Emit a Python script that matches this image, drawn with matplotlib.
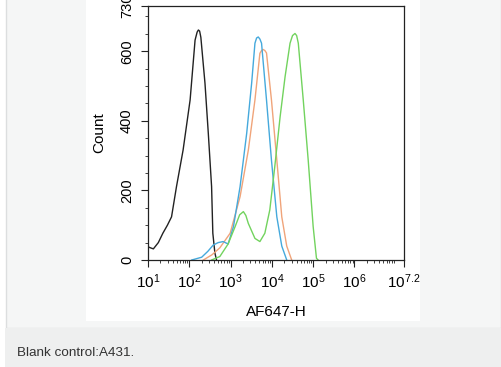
import numpy as np
import matplotlib
matplotlib.use("Agg")
import matplotlib.pyplot as plt
from matplotlib.patches import Rectangle
from matplotlib.ticker import FixedLocator, LogLocator, NullFormatter, MultipleLocator

plt.rcParams['font.family'] = ['Liberation Sans', 'DejaVu Sans']
plt.rcParams['mathtext.fontset'] = 'custom'
plt.rcParams['mathtext.rm'] = 'Liberation Sans'
plt.rcParams['mathtext.it'] = 'Liberation Sans:italic'

# histogram outlines, x as log10(intensity), y as count
black_x = [1.0, 1.06, 1.13, 1.25, 1.36, 1.47, 1.57, 1.69, 1.85, 2.02, 2.14, 2.19, 2.22, 2.25, 2.28, 2.38, 2.46, 2.54, 2.57, 2.62, 2.66]
black_y = [38, 35, 32, 50, 77, 100, 124, 211, 316, 460, 632, 655, 661, 658, 640, 508, 365, 211, 77, 20, 0]

blue_x = [2.06, 2.3, 2.45, 2.58, 2.7, 2.82, 2.94, 3.07, 3.23, 3.39, 3.51, 3.59, 3.63, 3.67, 3.71, 3.75, 3.87, 3.99, 4.12, 4.24, 4.36]
blue_y = [0, 8, 25, 43, 50, 53, 46, 96, 211, 364, 508, 623, 638, 641, 635, 623, 460, 287, 124, 40, 0]

orange_x = [2.34, 2.55, 2.74, 2.99, 3.23, 3.43, 3.59, 3.71, 3.75, 3.79, 3.83, 3.87, 3.99, 4.12, 4.24, 4.36, 4.48]
orange_y = [0, 15, 35, 77, 182, 316, 460, 594, 602, 605, 602, 595, 460, 287, 124, 40, 0]

green_x = [2.54, 2.74, 2.94, 3.11, 3.22, 3.31, 3.37, 3.43, 3.59, 3.71, 3.83, 3.95, 4.07, 4.20, 4.32, 4.44, 4.5, 4.56, 4.6, 4.64, 4.76, 4.88, 5.0, 5.08, 5.12]
green_y = [0, 10, 46, 96, 130, 139, 128, 105, 62, 53, 77, 144, 268, 412, 527, 623, 645, 651, 645, 623, 460, 287, 96, 5, 0]

tick_exp = [1, 2, 3, 4, 5, 6, 7.2]
tick_labels = ['$10^{1}$', '$10^{2}$', '$10^{3}$', '$10^{4}$', '$10^{5}$', '$10^{6}$', '$10^{7.2}$']
y_ticks = [0, 200, 400, 600, 730]

W, H = 502, 367
fig = plt.figure(figsize=(W / 100, H / 100), dpi=100, facecolor='white')


def box(x0, y0, x1, y1, **kw):
    # rectangle given in pixel coords from the top-left corner
    r = Rectangle((x0 / W, 1 - y1 / H), (x1 - x0) / W, (y1 - y0) / H,
                  transform=fig.transFigure, **kw)
    fig.add_artist(r)
    return r


box(5.5, -2, 501.5, 327.5, facecolor='#f5f6f6', edgecolor='#dcdedf', lw=1, zorder=0)
box(5, 328, 502, 368, facecolor='#eeefef', edgecolor='none', zorder=0)
box(86, 0, 420, 321, facecolor='white', edgecolor='none', zorder=0)
fig.text(17 / W, 1 - 353 / H, 'Blank control:A431.', fontsize=9.7, color='#333333',
         va='center', ha='left')

ax = fig.add_axes([148 / W, 1 - 260 / H, 256 / W, 254 / H])
ax.set_zorder(2)
ax.patch.set_alpha(0)

for xs, ys, c in [(black_x, black_y, '#222222'),
                  (orange_x, orange_y, '#f0a47a'),
                  (blue_x, blue_y, '#45a9dc'),
                  (green_x, green_y, '#72d35e')]:
    ax.plot(10 ** np.array(xs), ys, color=c, lw=1.0)

ax.set_xscale('log')
ax.set_xlim(10, 10 ** 7.2)
ax.set_ylim(0, 730)

ax.xaxis.set_major_locator(FixedLocator([10 ** e for e in tick_exp]))
ax.set_xticklabels(tick_labels, fontsize=11)
ax.xaxis.set_minor_locator(LogLocator(base=10, subs=np.arange(2, 10), numticks=20))
ax.xaxis.set_minor_formatter(NullFormatter())
ax.set_yticks(y_ticks)
ax.set_yticklabels([str(v) for v in y_ticks], fontsize=10.5, rotation=90, va='center')
ax.yaxis.set_minor_locator(MultipleLocator(50))

ax.tick_params(axis='both', which='major', length=5, width=0.8, color='#222222')
ax.tick_params(axis='both', which='minor', length=2.5, width=0.6, color='#222222')
ax.tick_params(axis='x', pad=4)
ax.tick_params(axis='y', pad=5)
for s in ax.spines.values():
    s.set_linewidth(0.9)
    s.set_color('#222222')

ax.set_xlabel('AF647-H', fontsize=11, labelpad=10)
ax.set_ylabel('Count', fontsize=11, labelpad=10)

fig.savefig('out.png', dpi=100, facecolor=fig.get_facecolor())
